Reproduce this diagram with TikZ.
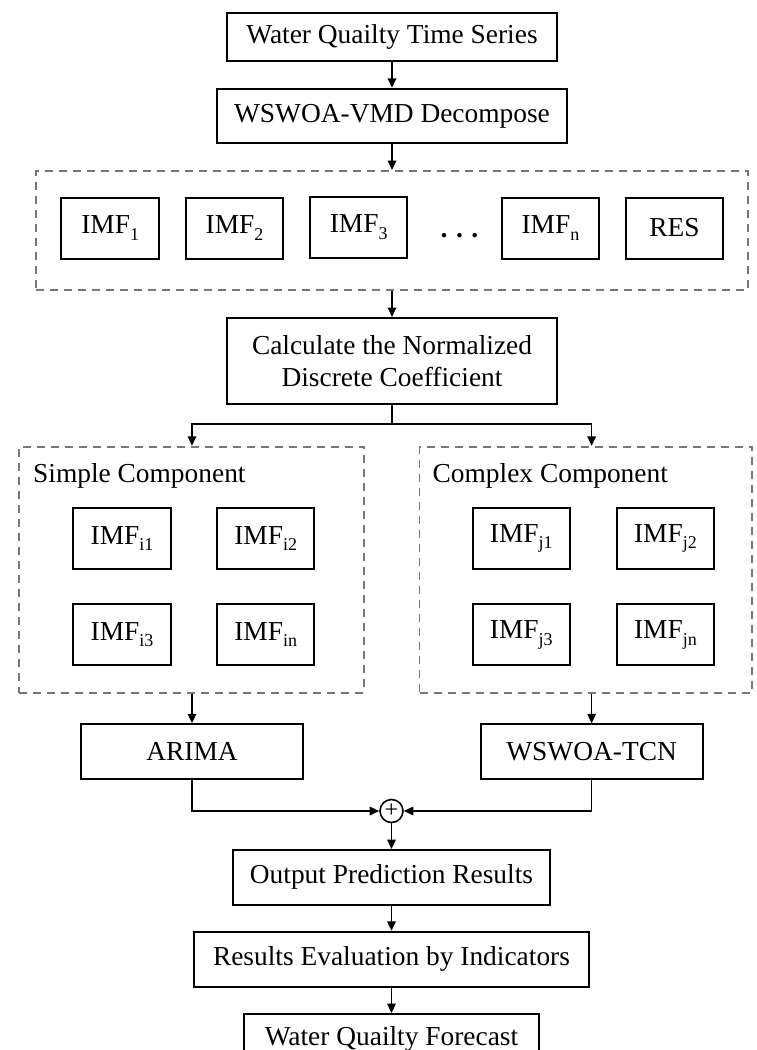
\documentclass[tikz,border=0pt]{standalone}
\usepackage{fontspec}
\setmainfont{Liberation Serif}
\usepackage{tikz}
\usetikzlibrary{arrows.meta,positioning}
\definecolor{groupgray}{RGB}{122,118,120}
\newcommand{\imfsub}[1]{\raisebox{-6.5pt}{\fontsize{18}{18}\selectfont #1}}

\tikzset{
  procbox/.style={draw,line width=2pt,inner sep=0pt,align=center,
    font=\fontsize{27.4}{32}\selectfont},
  imfbox/.style={procbox,minimum width=97.5pt,minimum height=61pt},
  groupbox/.style={draw=groupgray,line width=1.8pt,dash pattern=on 8pt off 6pt,inner sep=0pt},
  flow/.style={line width=1.7pt,-{Triangle[length=9.5pt,width=8.5pt]}}
}

\begin{document}
\begin{tikzpicture}[x=1pt,y=-1pt,node distance=25.8pt]
  \useasboundingbox (0,0) rectangle (756,1050);

  % main column, top part
  \node[procbox,minimum width=330pt,minimum height=48pt] (series) at (392,37)
    {Water Quailty Time Series};
  \node[procbox,below=of series,minimum width=349.5pt,minimum height=54.4pt] (vmd)
    {WSWOA-VMD Decompose};
  \node[groupbox,below=of vmd,minimum width=712pt,minimum height=119.4pt] (imfs) {};

  \node[imfbox] (imf1) at (110.2,228) {IMF\imfsub{1}};
  \node[imfbox] (imf2) at (234.6,228) {IMF\imfsub{2}};
  \node[imfbox] (imf3) at (358.7,227) {IMF\imfsub{3}};
  \node[font=\fontsize{27.4}{32}\selectfont\bfseries,inner sep=0pt] (dots) at (459.5,236)
    {.\hspace{8.5pt}.\hspace{8.5pt}.};
  \node[imfbox] (imfn) at (550.4,228) {IMF\imfsub{n}};
  \node[imfbox] (res) at (674.5,228) {RES};

  \node[procbox,below=of imfs,minimum width=330pt,minimum height=85.7pt] (calc)
    {Calculate the Normalized\\Discrete Coefficient};
  \coordinate (split) at (392,424);

  % two groups of components
  \node[groupbox,minimum width=344.7pt,minimum height=246pt] (simple) at (191.7,569.7) {};
  \node[groupbox,minimum width=332.5pt,minimum height=246pt] (complex) at (585.8,569.7) {};
  \node[anchor=base west,inner sep=0pt,font=\fontsize{27.4}{32}\selectfont] (simplelab)
    at (33,482) {Simple Component};
  \node[anchor=base west,inner sep=0pt,font=\fontsize{27.4}{32}\selectfont] (complexlab)
    at (432.5,482) {Complex Component};

  \node[imfbox] (imfi1) at (122,538.3) {IMF\imfsub{i1}};
  \node[imfbox] (imfi2) at (265.7,538.3) {IMF\imfsub{i2}};
  \node[imfbox] (imfi3) at (122,634.7) {IMF\imfsub{i3}};
  \node[imfbox] (imfin) at (265.7,634.7) {IMF\imfsub{in}};
  \node[imfbox] (imfj1) at (521.3,538.3) {IMF\imfsub{j1}};
  \node[imfbox] (imfj2) at (665.4,538.3) {IMF\imfsub{j2}};
  \node[imfbox] (imfj3) at (521.3,634.7) {IMF\imfsub{j3}};
  \node[imfbox] (imfjn) at (665.4,634.7) {IMF\imfsub{jn}};

  \node[procbox,minimum width=222pt,minimum height=55pt] (arima) at (192,751.8) {ARIMA};
  \node[procbox,minimum width=222pt,minimum height=55pt] (tcn) at (591.6,751.8) {WSWOA-TCN};

  % combine and evaluate
  \node[draw,circle,line width=1.6pt,minimum size=23pt,inner sep=0pt,
    font=\fontsize{24}{24}\selectfont] (plus) at (391.5,811) {+};
  \node[procbox,below=of plus,minimum width=317pt,minimum height=54.4pt] (output)
    {Output Prediction Results};
  \node[procbox,below=25.3pt of output,minimum width=395.4pt,minimum height=54.7pt] (eval)
    {Results Evaluation by Indicators};
  \node[procbox,below=25.6pt of eval,minimum width=295pt,minimum height=50pt] (forecast)
    {Water Quailty Forecast};

  \draw[flow] (series) -- (vmd);
  \draw[flow] (vmd) -- (imfs);
  \draw[flow] (imfs) -- (calc);
  \draw[line width=1.7pt] (calc) -- (split);
  \draw[flow] (split) -| (simple.north -| arima.north);
  \draw[flow] (split) -| (complex.north -| tcn.north);
  \draw[flow] (simple.south -| arima.north) -- (arima);
  \draw[flow] (complex.south -| tcn.north) -- (tcn);
  \draw[flow] (arima) |- (plus);
  \draw[flow] (tcn) |- (plus);
  \draw[flow] (plus) -- (output);
  \draw[flow] (output) -- (eval);
  \draw[flow] (eval) -- (forecast);
\end{tikzpicture}
\end{document}
